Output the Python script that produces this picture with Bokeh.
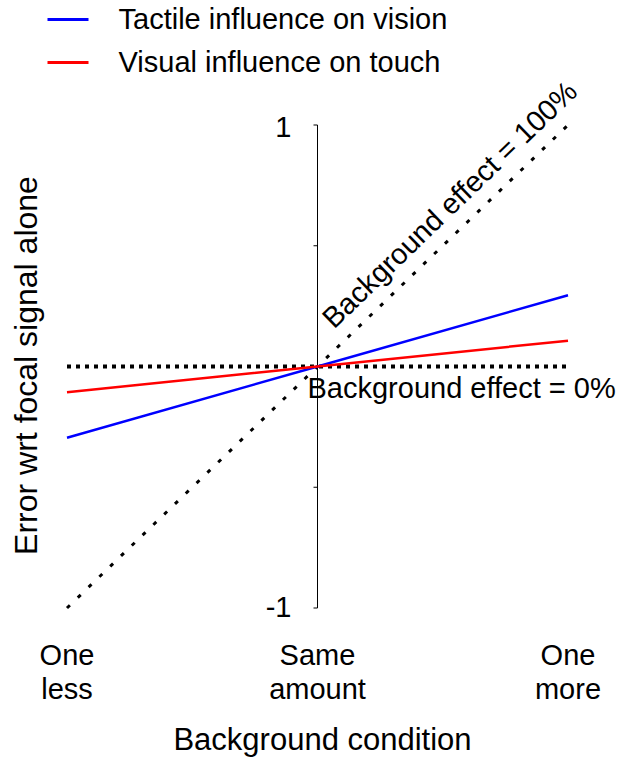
import math
from bokeh.plotting import figure
from bokeh.models import Range1d
from bokeh.core.properties import value
from bokeh.embed import file_html
from bokeh.resources import INLINE

# ---------------- data ----------------
x_positions = [-1, 0, 1]
xtick_labels = ["One\nless", "Same\namount", "One\nmore"]
tactile_on_vision = [-0.295, 0.0, 0.295]
visual_on_touch = [-0.107, 0.0, 0.107]
effect_100 = [-1, 0, 1]
effect_0 = [0, 0, 0]
ytick_values = [-1, -0.5, 0, 0.5, 1]
ytick_labels = {1: "1", -1: "-1"}
series_names = ["Tactile influence on vision", "Visual influence on touch"]
series_colors = ["#0000ff", "#ff0000"]
x_title = "Background condition"
y_title = "Error wrt focal signal alone"
label_100 = "Background effect = 100%"
label_0 = "Background effect = 0%"

# ---------------- layout helpers (image px -> data) ----------------
W, H = 617, 760
PAD = 0
OX, OY = 317.0, 366.0
SX, SY = 250.5, 241.5


def X(px):
    return (px - OX) / SX


def Y(py):
    return (OY - py) / SY


FONT = value("Liberation Sans")
FSN = 29
FS = f"{FSN}px"


def BY(py, fs=FSN):
    # data y for a desired on-screen baseline
    return Y(py - 0.37 * fs)


p = figure(width=W, height=H,
           x_range=Range1d(X(PAD), X(PAD + W)), y_range=Range1d(Y(PAD + H), Y(PAD)),
           x_axis_location=None, y_axis_location=None,
           output_backend="svg", toolbar_location=None, min_border=0)
p.grid.visible = False
p.outline_line_color = None
p.background_fill_color = "white"
p.border_fill_color = "white"

# y axis drawn at x = 0
p.segment(x0=[0], y0=[min(ytick_values)], x1=[0], y1=[max(ytick_values)],
          line_color="black", line_width=1)
p.segment(x0=[0] * len(ytick_values), y0=ytick_values,
          x1=[X(313)] * len(ytick_values), y1=ytick_values,
          line_color="black", line_width=1)
yl_vals = list(ytick_labels.keys())
yl_txt = [ytick_labels[v] for v in yl_vals]
yl_y = [BY(OY - v * SY + (13 if v > 0 else 10)) for v in yl_vals]
p.text(x=[X(291)] * len(yl_vals), y=yl_y, text=yl_txt, text_font=FONT,
       text_font_size=FS, text_align="right", text_baseline="alphabetic",
       text_color="black")

# reference dotted lines
p.line(x_positions, effect_0, line_color="black", line_width=4, line_dash="4 5")
p.line(x_positions, effect_100, line_color="black", line_width=3, line_dash="4 11")

# data lines
p.line(x_positions, tactile_on_vision, line_color=series_colors[0], line_width=2.5)
p.line(x_positions, visual_on_touch, line_color=series_colors[1], line_width=2.5)

# reference labels
ang = math.atan2(SY, SX)
p.text(x=[X(449)], y=[Y(204)], text=[label_100], text_font=FONT, text_font_size=FS,
       text_align="center", text_baseline="middle", angle=ang, text_color="black")
p.text(x=[X(307)], y=[BY(398)], text=[label_0], text_font=FONT, text_font_size=FS,
       text_align="left", text_baseline="alphabetic", text_color="black")

# x tick labels (two rows)
line1 = [t.split("\n")[0] for t in xtick_labels]
line2 = [t.split("\n")[1] for t in xtick_labels]
p.text(x=x_positions, y=[BY(665)] * 3, text=line1, text_font=FONT, text_font_size=FS,
       text_align="center", text_baseline="alphabetic", text_color="black")
p.text(x=x_positions, y=[BY(699)] * 3, text=line2, text_font=FONT, text_font_size=FS,
       text_align="center", text_baseline="alphabetic", text_color="black")

# axis titles
p.text(x=[X(322)], y=[BY(750, 31)], text=[x_title], text_font=FONT, text_font_size="31px",
       text_align="center", text_baseline="alphabetic", text_color="black")
p.text(x=[X(37 - 0.37 * 32)], y=[Y(365)], text=[y_title], text_font=FONT,
       text_font_size="32px", text_align="center", text_baseline="alphabetic",
       angle=math.pi / 2, text_color="black")

# legend
leg_y = [19, 62]
for i, name in enumerate(series_names):
    p.segment(x0=[X(47)], y0=[Y(leg_y[i])], x1=[X(88)], y1=[Y(leg_y[i])],
              line_color=series_colors[i], line_width=3)
    p.text(x=[X(118)], y=[BY(leg_y[i] + 10)], text=[name], text_font=FONT,
           text_font_size=FS, text_align="left", text_baseline="alphabetic",
           text_color="black")

open("out.html", "w").write(file_html(p, INLINE))
